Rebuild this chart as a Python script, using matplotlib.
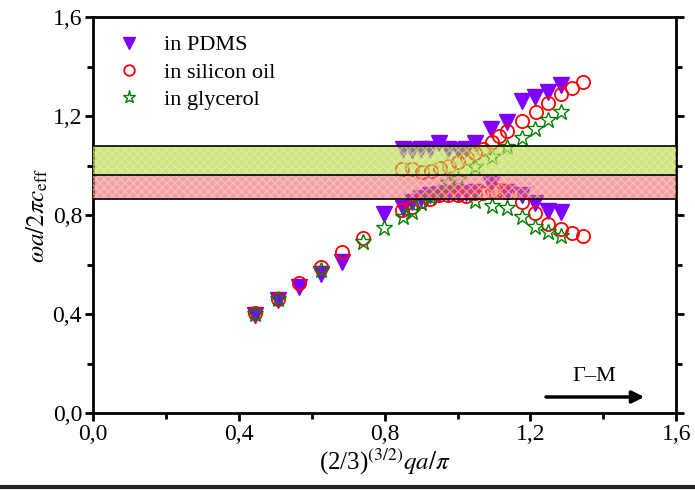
import matplotlib
matplotlib.use('Agg')
import matplotlib.pyplot as plt
from matplotlib.ticker import MultipleLocator, FuncFormatter

# ------------------------------------------------------------------------
# Data

pdms_lo_x = [0.445, 0.507, 0.566, 0.625, 0.684, 0.797, 0.850, 0.874, 0.900, 0.925,
             0.950, 0.975, 1.000, 1.024, 1.048, 1.092, 1.135, 1.176, 1.213, 1.249, 1.283]
pdms_lo_y = [0.396, 0.455, 0.508, 0.564, 0.611, 0.804, 0.830, 0.854, 0.870, 0.880,
             0.885, 0.888, 0.888, 0.890, 0.892, 0.925, 0.894, 0.883, 0.849, 0.818, 0.812]
pdms_hi_x = [0.850, 0.874, 0.900, 0.925, 0.950, 0.975, 1.000, 1.024, 1.048,
             1.092, 1.135, 1.176, 1.213, 1.249, 1.283]
pdms_hi_y = [1.068, 1.065, 1.066, 1.068, 1.090, 1.066, 1.064, 1.066, 1.090,
             1.146, 1.178, 1.262, 1.278, 1.298, 1.325]

oil_lo_x = [0.445, 0.507, 0.566, 0.625, 0.684, 0.740, 0.847, 0.874, 0.900, 0.925,
            0.950, 0.975, 1.000, 1.024, 1.048, 1.071, 1.094, 1.115, 1.137, 1.176,
            1.213, 1.249, 1.283, 1.314, 1.344]
oil_lo_y = [0.405, 0.461, 0.524, 0.591, 0.650, 0.706, 0.820, 0.831, 0.857, 0.867,
            0.881, 0.881, 0.881, 0.877, 0.888, 0.888, 0.898, 0.901, 0.894, 0.854,
            0.807, 0.766, 0.742, 0.728, 0.715]
oil_hi_x = [0.847, 0.874, 0.902, 0.928, 0.952, 0.977, 1.000, 1.025, 1.048, 1.071,
            1.094, 1.114, 1.135, 1.176, 1.215, 1.249, 1.283, 1.314, 1.344]
oil_hi_y = [0.985, 0.986, 0.975, 0.979, 0.989, 0.999, 1.013, 1.029, 1.049, 1.069,
            1.096, 1.119, 1.141, 1.180, 1.217, 1.254, 1.288, 1.312, 1.337]

gly_lo_x = [0.445, 0.507, 0.625, 0.740, 0.797, 0.850, 0.874, 0.900, 0.925, 0.950,
            1.048, 1.094, 1.135, 1.176, 1.213, 1.249, 1.283]
gly_lo_y = [0.400, 0.462, 0.578, 0.692, 0.746, 0.793, 0.813, 0.847, 0.874, 0.894,
            0.856, 0.836, 0.827, 0.791, 0.753, 0.733, 0.715]
gly_hi_x = [0.975, 1.000, 1.048, 1.094, 1.135, 1.176, 1.213, 1.249, 1.283]
gly_hi_y = [0.928, 0.944, 0.995, 1.036, 1.074, 1.110, 1.150, 1.184, 1.217]

# band gaps
green_band = (0.962, 1.080)
red_band = (0.867, 0.962)

# ------------------------------------------------------------------------
# Plotting

plt.rcParams['font.family'] = ['Liberation Serif', 'DejaVu Serif']
plt.rcParams['mathtext.fontset'] = 'stix'

fig = plt.figure(figsize=(6.95, 4.90), dpi=100)
ax = fig.add_axes([0.134, 0.157, 0.839, 0.808])

tri = dict(marker='v', ls='none', ms=11, color='#8000ff', mec='#8000ff', zorder=3)
circ = dict(marker='o', ls='none', ms=9.5, mfc='none', mec='red', mew=1.3, zorder=3)
star = dict(marker='*', ls='none', ms=12, mfc='none', mec='green', mew=1.0, zorder=3)

ax.plot(pdms_lo_x, pdms_lo_y, label='in PDMS', **tri)
ax.plot(pdms_hi_x, pdms_hi_y, **tri)
ax.plot(oil_lo_x, oil_lo_y, label='in silicon oil', **circ)
ax.plot(oil_hi_x, oil_hi_y, **circ)
ax.plot(gly_lo_x, gly_lo_y, label='in glycerol', **star)
ax.plot(gly_hi_x, gly_hi_y, **star)

# bands drawn on top, semi transparent, with a fine texture
ax.axhspan(*green_band, facecolor='#aed42c', alpha=0.6, lw=0, zorder=4)
ax.axhspan(*green_band, facecolor='none', edgecolor='#e8f2c0', hatch='xxxx',
           lw=0, alpha=0.5, zorder=4)
ax.axhspan(*red_band, facecolor='#ee5f5f', alpha=0.6, lw=0, zorder=4)
ax.axhspan(*red_band, facecolor='none', edgecolor='#fbd0d0', hatch='xxxx',
           lw=0, alpha=0.6, zorder=4)
for yy in (green_band[1], green_band[0], red_band[0]):
    ax.axhline(yy, color='black', lw=1.2, zorder=5)

ax.set_xlim(0, 1.6)
ax.set_ylim(0, 1.6)

comma = FuncFormatter(lambda v, p: ('%.1f' % v).replace('.', ','))
ax.xaxis.set_major_locator(MultipleLocator(0.4))
ax.xaxis.set_minor_locator(MultipleLocator(0.2))
ax.yaxis.set_major_locator(MultipleLocator(0.4))
ax.yaxis.set_minor_locator(MultipleLocator(0.2))
ax.xaxis.set_major_formatter(comma)
ax.yaxis.set_major_formatter(comma)

ax.tick_params(which='both', direction='out', width=2, labelsize=17,
               right=True, top=False, pad=2)
ax.tick_params(which='major', length=6)
ax.tick_params(which='minor', length=4)
for s in ax.spines.values():
    s.set_linewidth(2)

ax.set_xlabel(r'(2/3)$^{(3/2)}$$qa/\pi$', fontsize=18, labelpad=1)
ax.set_ylabel(r'$\omega a/2\pi c_{\rm eff}$', fontsize=18, labelpad=2)

ax.annotate('', xy=(1.52, 0.065), xytext=(1.235, 0.065),
            arrowprops=dict(arrowstyle='-|>', color='black', lw=2.5,
                            mutation_scale=18))
ax.text(1.375, 0.11, 'Γ–M', fontsize=16, ha='center', va='bottom')

ax.legend(loc='upper left', frameon=False, fontsize=16, handletextpad=0.8,
          borderaxespad=0.4, labelspacing=0.3, handlelength=1.6,
          markerscale=0.8, bbox_to_anchor=(0.0, 1.0))

fig.add_artist(plt.Line2D([0, 1], [0.006, 0.006], transform=fig.transFigure,
                          color='#222222', lw=3))

fig.savefig('out.png', dpi=100)
